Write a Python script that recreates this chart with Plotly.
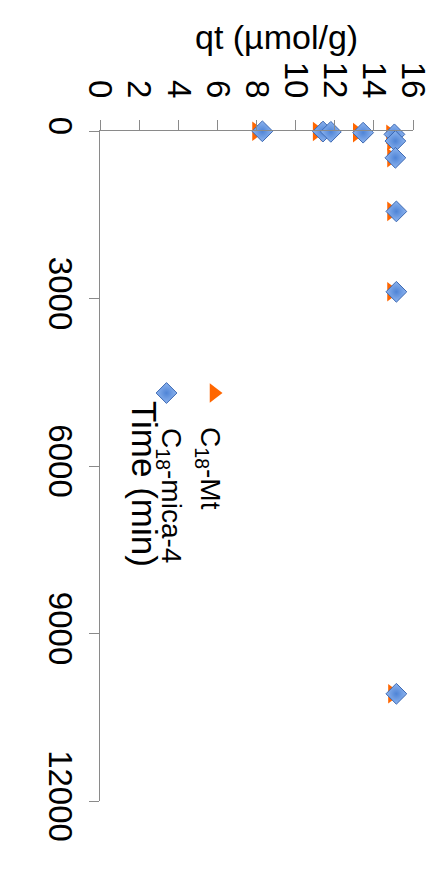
import plotly.graph_objects as go

# Adsorption kinetics: amount adsorbed qt (µmol/g) versus contact time (min)
time_min = [5, 10, 15, 30, 60, 180, 480, 1440, 2880, 10080]
qt_c18_mt = [8.0, 11.1, 11.5, 13.15, 14.85, 14.9, 14.9, 14.9, 14.9, 14.95]
qt_c18_mica4 = [8.3, 11.4, 11.8, 13.45, 15.05, 15.1, 15.1, 15.15, 15.15, 15.15]

series_names = ["C<sub>18</sub>-Mt", "C<sub>18</sub>-mica-4"]
qt_ticks = [0, 2, 4, 6, 8, 10, 12, 14, 16]
time_ticks = [0, 3000, 6000, 9000, 12000]
time_ticktext = ["0", "3000", "6000", "9000", "12000"]

FONT = "Liberation Sans, Arial, Helvetica, sans-serif"
AXIS_GREY = "#8a8a8a"
ORANGE = "#ff6600"
BLUE_EDGE = "#3c68b2"

W, H = 445, 877
L, R, T, B = 100, 32, 131, 76
PW, PH = W - L - R, H - T - B


def px(x):
    return (x - L) / PW


def py(y):
    return (H - B - y) / PH


tri_marker = dict(symbol="triangle-right", size=17, color=ORANGE, line=dict(width=0))
dia_marker = dict(symbol="diamond", size=16, color="#8db4ef",
                  gradient=dict(type="radial", color="#4f84d6"),
                  line=dict(width=1, color=BLUE_EDGE))

fig = go.Figure()

# Quarter-turned layout: qt runs across the top, time runs downward
fig.add_trace(go.Scatter(
    x=qt_c18_mt, y=time_min, mode="markers", name=series_names[0],
    marker=tri_marker, cliponaxis=False, showlegend=False,
))
fig.add_trace(go.Scatter(
    x=qt_c18_mica4, y=time_min, mode="markers", name=series_names[1],
    marker=dia_marker, cliponaxis=False, showlegend=False,
))

# Legend keys drawn on an overlay axis in fractional coordinates
fig.add_trace(go.Scatter(
    x=[px(214)], y=[py(393)], xaxis="x2", yaxis="y2", mode="markers",
    marker=tri_marker, showlegend=False, hoverinfo="skip", cliponaxis=False,
))
fig.add_trace(go.Scatter(
    x=[px(166.5)], y=[py(393)], xaxis="x2", yaxis="y2", mode="markers",
    marker=dia_marker, showlegend=False, hoverinfo="skip", cliponaxis=False,
))

axis_common = dict(
    showline=True, linecolor=AXIS_GREY, linewidth=1,
    ticks="outside", ticklen=10, tickwidth=1, tickcolor=AXIS_GREY,
    showgrid=False, zeroline=False,
    tickfont=dict(family=FONT, size=33, color="black"),
    tickangle=90,
)

fig.update_layout(
    width=W, height=H,
    margin=dict(l=L, r=R, t=T, b=B),
    paper_bgcolor="white", plot_bgcolor="white",
    xaxis=dict(range=[0, 16], side="top", tickvals=qt_ticks,
               ticklabelstandoff=10, **axis_common),
    yaxis=dict(range=[12000, 0], tickvals=time_ticks, ticktext=time_ticktext,
               **axis_common),
    xaxis2=dict(overlaying="x", range=[0, 1], visible=False),
    yaxis2=dict(overlaying="y", range=[0, 1], visible=False),
    annotations=[
        dict(text="qt (µmol/g)", x=px(276.5), y=py(37), xref="paper", yref="paper",
             showarrow=False, xanchor="center", yanchor="middle",
             font=dict(family=FONT, size=34, color="black")),
        dict(text="Time (min)", x=px(144), y=py(484), xref="paper", yref="paper",
             showarrow=False, textangle=90, xanchor="center", yanchor="middle",
             font=dict(family=FONT, size=35, color="black")),
        dict(text=series_names[0], x=px(208), y=py(468), xref="paper", yref="paper",
             showarrow=False, textangle=90, xanchor="center", yanchor="middle",
             font=dict(family=FONT, size=28, color="black")),
        dict(text=series_names[1], x=px(170), y=py(495), xref="paper", yref="paper",
             showarrow=False, textangle=90, xanchor="center", yanchor="middle",
             font=dict(family=FONT, size=28, color="black")),
    ],
)

fig.write_html("out.html")
